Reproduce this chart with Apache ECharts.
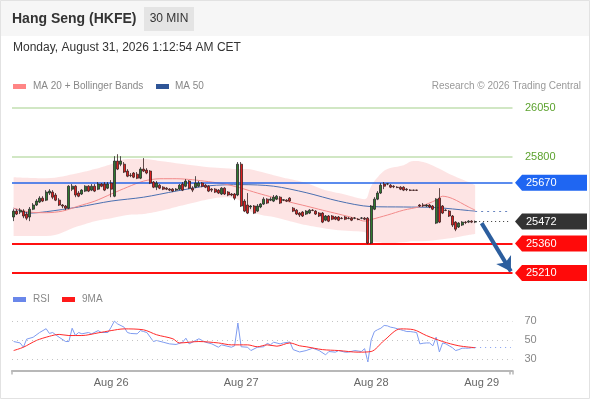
<!DOCTYPE html>
<html><head><meta charset="utf-8">
<script src="https://cdn.jsdelivr.net/npm/echarts@6/dist/echarts.min.js"></script>
<style>html,body{margin:0;padding:0;background:#fff}#c{width:590px;height:400px}</style>
</head><body><div id="c"></div>
<script>
// ---------- DATA ----------
// candles: [open, close, low, high]
const candles = [
[25495,25525,25474,25535],[25525,25510,25505,25535],[25520,25530,25510,25540],[25525,25500,25489,25535],[25510,25489,25479,25520],
[25495,25535,25474,25546],[25535,25556,25530,25566],[25556,25576,25551,25586],[25571,25591,25566,25601],[25591,25576,25571,25601],
[25581,25622,25576,25632],[25617,25627,25607,25637],[25622,25596,25586,25632],[25607,25581,25576,25617],[25581,25556,25551,25591],
[25556,25551,25540,25561],[25551,25540,25530,25556],[25540,25652,25535,25657],[25637,25652,25627,25663],[25652,25607,25596,25657],
[25617,25601,25596,25627],[25612,25632,25607,25637],[25627,25652,25622,25657],[25652,25627,25622,25657],[25632,25652,25627,25663],
[25652,25627,25622,25663],[25637,25663,25632,25673],[25663,25652,25647,25668],[25663,25632,25627,25673],[25642,25663,25637,25673],
[25668,25637,25596,25683],[25601,25780,25596,25805],[25780,25739,25734,25815],[25764,25780,25754,25805],[25764,25724,25719,25775],
[25729,25703,25698,25739],[25708,25706,25698,25719],[25719,25698,25693,25724],[25713,25693,25688,25724],[25693,25739,25688,25749],
[25739,25729,25724,25795],[25734,25719,25713,25744],[25729,25668,25663,25734],[25673,25647,25642,25678],[25647,25668,25632,25678],
[25657,25642,25637,25663],[25647,25637,25632,25652],[25642,25637,25632,25647],[25637,25632,25627,25642],[25637,25627,25622,25642],
[25632,25637,25627,25642],[25637,25657,25632,25663],[25663,25632,25627,25673],[25652,25678,25647,25688],[25678,25642,25637,25683],
[25642,25632,25622,25652],[25647,25668,25642,25703],[25652,25668,25647,25678],[25668,25652,25647,25673],[25657,25647,25642,25663],
[25652,25627,25622,25657],[25637,25632,25622,25642],[25637,25622,25617,25642],[25632,25617,25612,25637],[25612,25642,25607,25647],
[25642,25612,25607,25647],[25622,25607,25601,25627],[25612,25607,25601,25617],[25612,25591,25581,25617],[25607,25764,25601,25775],
[25764,25551,25546,25775],[25576,25525,25520,25586],[25556,25515,25510,25617],[25546,25551,25535,25556],[25551,25515,25510,25556],
[25525,25551,25520,25561],[25546,25561,25540,25566],[25561,25586,25556,25596],[25586,25566,25561,25591],[25581,25586,25576,25596],
[25576,25596,25571,25607],[25586,25601,25581,25607],[25596,25566,25561,25601],[25581,25583,25576,25586],[25581,25576,25571,25586],
[25591,25576,25571,25596],[25540,25525,25520,25546],[25530,25510,25505,25535],[25515,25505,25495,25520],[25520,25500,25495,25525],
[25510,25525,25505,25530],[25515,25530,25510,25535],[25530,25528,25525,25535],[25525,25510,25505,25530],[25515,25500,25495,25520],
[25515,25469,25464,25520],[25479,25500,25474,25505],[25500,25474,25469,25505],[25500,25484,25479,25505],[25495,25484,25479,25500],
[25495,25479,25474,25500],[25489,25487,25484,25495],[25495,25484,25479,25500],[25489,25487,25484,25495],[25489,25479,25474,25495],
[25489,25490,25484,25495],[25484,25482,25479,25489],[25489,25490,25484,25495],[25489,25484,25479,25495],[25489,25362,25357,25495],
[25362,25551,25357,25556],[25535,25586,25530,25596],[25586,25617,25581,25627],[25617,25657,25612,25668],[25663,25652,25637,25673],
[25663,25664,25657,25668],[25657,25647,25642,25663],[25652,25649,25642,25657],[25647,25645,25642,25652],[25647,25637,25632,25652],
[25647,25632,25627,25652],[25637,25634,25627,25642],[25632,25631,25627,25637],[25632,25631,25629,25634],[25632,25631,25629,25634],
[25556,25551,25546,25561],[25556,25552,25546,25566],[25551,25556,25546,25561],[25556,25546,25540,25561],[25551,25535,25530,25556],
[25464,25586,25459,25591],[25591,25469,25464,25642],[25551,25515,25510,25556],[25530,25528,25525,25535],[25525,25500,25495,25530],
[25500,25454,25444,25505],[25469,25433,25423,25474],[25444,25464,25439,25469],[25454,25469,25449,25474],[25469,25467,25459,25474],
[25469,25474,25464,25479],[25474,25469,25464,25479],[25469,25472,25464,25477]
];

const ma20Idx = [0,5,10,15,20,25,30,35,40,45,50,55,60,65,70,75,80,85,90,95,100,105,108,110,115,120,125,130,132,135,140,142];
const ma20 = [25540,25520,25517,25525,25551,25576,25612,25647,25678,25690,25690,25685,25675,25663,25642,25617,25594,25571,25551,25530,25510,25489,25474,25482,25505,25530,25548,25581,25601,25589,25546,25530];

const ma50Idx = [0,5,10,20,30,40,50,60,70,80,90,100,110,120,130,140,142];
const ma50 = [25540,25515,25522,25546,25576,25596,25627,25654,25660,25652,25619,25576,25548,25546,25543,25528,25525];

const bbIdx = [0,10,20,25,30,35,40,45,50,55,60,65,70,72,75,80,85,90,95,100,105,108,110,112,115,120,123,126,130,135,140,142];
const bbUpper = [25698,25693,25719,25739,25764,25790,25790,25780,25769,25759,25749,25744,25739,25739,25729,25708,25688,25668,25637,25617,25596,25586,25652,25698,25739,25759,25780,25775,25749,25708,25673,25657];
const bbLower = [25398,25398,25449,25474,25489,25505,25510,25525,25546,25566,25586,25596,25576,25535,25510,25495,25474,25454,25439,25428,25423,25418,25372,25367,25362,25367,25372,25372,25378,25388,25403,25408];

const rsiIdx = [0,2,3,4,6,8,10,11,12,14,16,17,18,19,20,21,23,24,26,27,29,30,31,32,34,35,36,38,39,40,41,43,44,46,48,50,52,53,54,56,57,59,61,63,64,67,68,69,70,72,73,75,77,78,79,80,82,83,85,86,88,90,92,94,96,97,99,100,102,103,105,107,108,109,110,111,112,113,114,115,116,117,118,119,120,121,122,123,124,125,126,127,128,129,130,131,132,133,134,135,136,137,138,139,140,141,142];
const rsiVal = [48.5,47,42.5,51,53,58,62,57,58,53,48.5,48.5,62.5,55,58,56.6,58,56.6,60,58,58,63.6,70,67,63.6,58,57,56.6,60,59,58,48.5,49.6,47.8,46,45.4,47.8,52,46,49.6,51.4,47.8,46,42.5,45,42.5,44,68,43,42.5,39,42.5,43,46.7,45,47.8,46,47,48,40,37.5,39,41.5,39,34.5,38,37.3,39,37.3,37.3,39,38,41,27,50,59,61,62.5,65.4,65,63.6,63,62,61,60,59,59,58.5,58,46,46.7,47,47,44,53,37.5,47,46,44,42,39,40,41.5,41.5,41.5,42,42];

const rsiMaIdx = [0,3,7,11,14,17,21,26,30,34,40,44,49,51,57,63,67,72,75,78,81,85,88,90,95,100,106,110,114,119,123,127,132,137,142];
const rsiMa = [39,42.5,49.6,54,56,54.8,54.8,57.6,60,61.8,60.8,55.6,51.4,47,48.5,47,45,45,43,45,43.6,47,44,43,40,39,37.3,38,49.6,61.8,61,54.8,48.5,44,42];
const rsiLevels = [70, 50, 30];

const levelGreen = [26050, 25800];
const levelBlue = 25670;
const levelRed = [25360, 25210];
const lastPrice = 25472;
const arrowFrom = [143.5, 25464];
const arrowTo = [153.3, 25218];

const N = 154;
const xTickIdx = [30, 70, 110, 144];
const xTickLabels = ['Aug 26', 'Aug 27', 'Aug 28', 'Aug 29'];

// ---------- CHART ----------
const FF = '"Liberation Sans", Arial, sans-serif';
const cats = Array.from({length: N}, (_, i) => String(i));
const pairs = (idx, vals) => idx.map((i, k) => [i, vals[k]]);
const lastIdx = candles.length - 1;

const chart = echarts.init(document.getElementById('c'), null, {renderer: 'canvas'});
const gridL = 12, gridW = 500.5;

const option = {
  animation: false,
  backgroundColor: 'transparent',
  grid: [
    {left: gridL, width: gridW, top: 101, height: 180},
    {left: gridL, width: gridW, top: 311.6, height: 58.9}
  ],
  xAxis: [
    {type: 'category', gridIndex: 0, data: cats, boundaryGap: true, show: false},
    {type: 'category', gridIndex: 1, data: cats, boundaryGap: true,
     axisLine: {show: true, lineStyle: {color: '#b8b8b8', width: 2}},
     axisTick: {show: true, interval: (i) => i === 0 || i === N - 1, length: 4, lineStyle: {color: '#b8b8b8', width: 1.5}},
     axisLabel: {interval: (i) => xTickIdx.includes(i), formatter: (v, i) => {
        const k = xTickIdx.indexOf(Number(v)); return k >= 0 ? xTickLabels[k] : ''; },
        color: '#666', fontSize: 11, fontFamily: FF, margin: 7},
     splitLine: {show: false}}
  ],
  yAxis: [
    {type: 'value', gridIndex: 0, min: 25169, max: 26086, show: false, splitLine: {show: false}},
    {type: 'value', gridIndex: 1, min: 18, max: 80, show: false, splitLine: {show: false}}
  ],
  series: [
    {type: 'line', name: 'bbLow', xAxisIndex: 0, yAxisIndex: 0, stack: 'bb', smooth: 0.4,
     data: pairs(bbIdx, bbLower), symbol: 'none', lineStyle: {opacity: 0}, z: 1, silent: true},
    {type: 'line', name: 'bbBand', xAxisIndex: 0, yAxisIndex: 0, stack: 'bb', smooth: 0.4,
     data: bbIdx.map((i, k) => [i, bbUpper[k] - bbLower[k]]), symbol: 'none',
     lineStyle: {opacity: 0}, areaStyle: {color: 'rgba(252, 206, 206, 0.55)', opacity: 1}, z: 1, silent: true},
    {type: 'line', name: 'MA 50', xAxisIndex: 0, yAxisIndex: 0, smooth: 0.3,
     data: pairs(ma50Idx, ma50), symbol: 'none', lineStyle: {color: '#4a6fb0', width: 1}, z: 3,
     markLine: {silent: true, symbol: 'none', label: {show: false},
       lineStyle: {color: '#6a86c0', type: [2, 4], width: 1},
       data: [[{coord: [lastIdx, ma50[ma50.length - 1]]}, {coord: [N - 1, ma50[ma50.length - 1]]}]]}},
    {type: 'line', name: 'MA 20', xAxisIndex: 0, yAxisIndex: 0, smooth: 0.3,
     data: pairs(ma20Idx, ma20), symbol: 'none', lineStyle: {color: '#f28a8a', width: 1}, z: 3},
    {type: 'candlestick', name: 'HSI', xAxisIndex: 0, yAxisIndex: 0, data: candles, barWidth: '72%', z: 5,
     itemStyle: {color: '#2f7a2f', color0: '#de1f1f', borderColor: '#2a2a2a', borderColor0: '#3a2222', borderWidth: 0.8},
     markLine: {silent: true, symbol: 'none', label: {show: false}, z: 4,
       data: [
         {yAxis: levelGreen[0], lineStyle: {color: '#c2dfb0', width: 1.5, type: 'solid'}},
         {yAxis: levelGreen[1], lineStyle: {color: '#c2dfb0', width: 1.5, type: 'solid'}},
         {yAxis: levelBlue, lineStyle: {color: '#2566e8', width: 1.5, type: 'solid'}},
         {yAxis: levelRed[0], lineStyle: {color: '#ff1010', width: 2, type: 'solid'}},
         {yAxis: levelRed[1], lineStyle: {color: '#ff1010', width: 2, type: 'solid'}},
         [{coord: [lastIdx, lastPrice], lineStyle: {color: '#333', width: 1, type: [1, 3]}}, {coord: [N - 1, lastPrice]}],
         [{coord: arrowFrom, symbol: 'none', lineStyle: {color: '#2c5e9e', width: 4, type: 'solid'}},
          {coord: arrowTo, symbol: 'arrow', symbolSize: [13, 14]}]
       ]}},
    {type: 'line', name: 'RSI', xAxisIndex: 1, yAxisIndex: 1, data: pairs(rsiIdx, rsiVal), symbol: 'none',
     lineStyle: {color: '#7f9cf0', width: 1}, z: 3,
     markLine: {silent: true, symbol: 'none',
       data: rsiLevels.map(v => ({yAxis: v, lineStyle: {color: '#c4c4c4', type: [1, 4], width: 1},
         label: {show: true, position: 'end', formatter: String(v), color: '#888', fontSize: 11, fontFamily: FF, distance: 12}}))
       .concat([[{coord: [lastIdx, rsiVal[rsiVal.length - 1]], label: {show: false},
                  lineStyle: {color: '#7f9cf0', type: [1, 4], width: 1}},
                 {coord: [N - 1, rsiVal[rsiVal.length - 1]]}]])}},
    {type: 'line', name: '9MA', xAxisIndex: 1, yAxisIndex: 1, data: pairs(rsiMaIdx, rsiMa), symbol: 'none',
     smooth: 0.3, lineStyle: {color: '#ff2a2a', width: 1}, z: 4}
  ]
};
chart.setOption(option);

// ---------- GRAPHICS (header, legends, price tags) ----------
const txt = (x, y, text, size, color, extra) => ({type: 'text', x, y, silent: true,
  style: Object.assign({text, fontSize: size, fontFamily: FF, fill: color, verticalAlign: 'middle', align: 'left'}, extra || {})});
const g = [];
g.push({type: 'rect', shape: {x: 0, y: 0, width: 590, height: 36}, style: {fill: '#f6f6f6'}, silent: true});
g.push({type: 'rect', shape: {x: 0.5, y: 0.5, width: 589, height: 398}, style: {fill: 'none', stroke: '#e2e2e2', lineWidth: 1}, silent: true});
g.push(txt(12, 19, 'Hang Seng (HKFE)', 14, '#333', {fontWeight: 'bold'}));
g.push({type: 'rect', shape: {x: 144, y: 7, width: 50, height: 24}, style: {fill: '#e4e4e4'}, silent: true});
g.push(txt(169, 19, '30 MIN', 12, '#333', {align: 'center'}));
g.push(txt(13, 48, 'Monday, August 31, 2026 1:12:54 AM CET', 12, '#333'));
g.push({type: 'rect', shape: {x: 13, y: 84, width: 13, height: 5}, style: {fill: '#ff8585'}, silent: true});
g.push(txt(33, 86.5, 'MA 20 + Bollinger Bands', 10, '#888'));
g.push({type: 'rect', shape: {x: 156, y: 84, width: 13, height: 5}, style: {fill: '#2f5597'}, silent: true});
g.push(txt(175, 86.5, 'MA 50', 10, '#888'));
g.push(txt(581, 86.5, 'Research \u00a9 2026 Trading Central', 10, '#999', {align: 'right'}));
g.push({type: 'rect', shape: {x: 13, y: 297, width: 13, height: 5}, style: {fill: '#6a87ea'}, silent: true});
g.push(txt(33, 299.5, 'RSI', 10, '#888'));
g.push({type: 'rect', shape: {x: 62, y: 297, width: 13, height: 5}, style: {fill: '#ff1a1a'}, silent: true});
g.push(txt(82, 299.5, '9MA', 10, '#888'));

const py = (v) => chart.convertToPixel({yAxisIndex: 0}, v);
levelGreen.forEach(v => g.push(txt(525, py(v), String(v), 11, '#5ca22e')));
const tag = (v, color) => {
  const y = py(v);
  g.push({type: 'polygon', silent: true, shape: {points: [[515, y], [522, y - 8], [587, y - 8], [587, y + 8], [522, y + 8]]}, style: {fill: color}});
  g.push(txt(526, y + 0.5, String(v), 11, '#fff'));
};
tag(levelBlue, '#1f66f2');
tag(lastPrice, '#333333');
levelRed.forEach(v => tag(v, '#ff0a0a'));

chart.setOption({graphic: g});
</script>
</body></html>
